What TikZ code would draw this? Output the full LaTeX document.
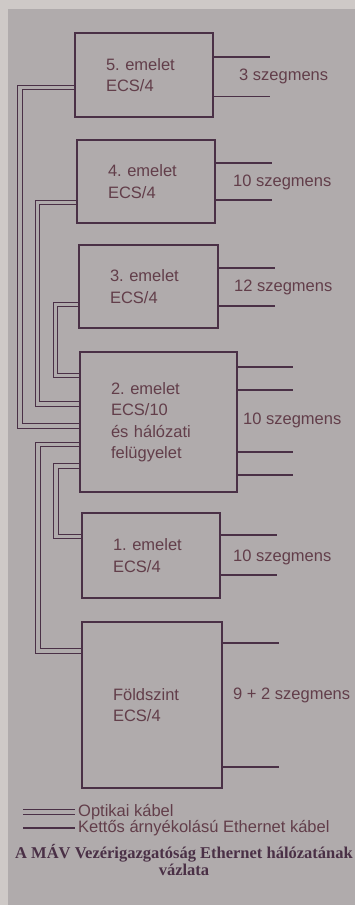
\documentclass[tikz,border=0pt]{standalone}
\usepackage{fontspec}
\setmainfont{Liberation Sans}
\newfontfamily\capfont{Liberation Serif}
\usepackage{xcolor}
\usetikzlibrary{positioning}

\definecolor{paper}{RGB}{206,201,199}
\definecolor{card}{RGB}{176,171,172}
\definecolor{ink}{RGB}{74,48,70}
\definecolor{inktext}{RGB}{98,62,74}

\frenchspacing

\begin{document}
\begin{tikzpicture}[
		x=1pt, y=-1pt,
		box/.style={
			draw=ink,
			line width=1.4pt,
			align=left,
			inner xsep=31pt,
			inner ysep=0pt,
			text=inktext,
			font=\fontsize{16.5}{21.5}\selectfont
		},
		seglabel/.style={
			anchor=west,
			inner sep=0pt,
			text=inktext,
			font=\fontsize{16.5}{20}\selectfont
		},
		legend/.style={
			anchor=west,
			inner xsep=3pt,
			inner ysep=0pt,
			text=inktext,
			font=\fontsize{16.5}{16}\selectfont
		},
		caption/.style={
			align=center,
			inner sep=0pt,
			text=ink,
			font=\capfont\bfseries\fontsize{16.5}{14}\selectfont
		},
		ethernet/.style={draw=ink, line width=1.3pt},
		optical/.style={draw=ink, line width=1.2pt, double=card, double distance=3.4pt}
		]
		
		% Background
		\fill[paper] (0,0) rectangle (355,905);
		\fill[card] (8,9) rectangle (355,905);
		\useasboundingbox (0,0) rectangle (355,905);
		
		% Floors
		\node[box, minimum width=138pt, minimum height=84pt, text width=76pt]
			(f5) at (144,75) {5. emelet\\ECS/4};
		\node[box, minimum width=138pt, minimum height=83pt, text width=76pt]
			(f4) at (146,181.5) {4. emelet\\ECS/4};
		\node[box, minimum width=139pt, minimum height=83pt, text width=77pt]
			(f3) at (148.5,286.5) {3. emelet\\ECS/4};
		\node[box, minimum width=157pt, minimum height=140pt, text width=95pt]
			(f2) at (158.5,422) {2. emelet\\ECS/10\\és hálózati\\felügyelet};
		\node[box, minimum width=138pt, minimum height=85pt, text width=76pt]
			(f1) at (151,555.5) {1. emelet\\ECS/4};
		\node[box, minimum width=140pt, minimum height=166pt, text width=78pt]
			(f0) at (152,705) {Földszint\\ECS/4};
		
		% Segment labels
		\node[seglabel] (l5) at (239,76) {3 szegmens};
		\node[seglabel] (l4) at (233,182) {10 szegmens};
		\node[seglabel] (l3) at (234,287) {12 szegmens};
		\node[seglabel] (l2) at (243,420) {10 szegmens};
		\node[seglabel] (l1) at (233,557) {10 szegmens};
		\node[seglabel] (l0) at (233,695) {9 + 2 szegmens};
		
		% Segment line ends
		\coordinate (s5a) at (270,57);
		\coordinate (s5b) at (270,96.5);
		\coordinate (s4a) at (272,163);
		\coordinate (s4b) at (272,200);
		\coordinate (s3a) at (275,268);
		\coordinate (s3b) at (275,306);
		\coordinate (s2a) at (293,367);
		\coordinate (s2b) at (293,390);
		\coordinate (s2c) at (293,452);
		\coordinate (s2d) at (293,475);
		\coordinate (s1a) at (277,535);
		\coordinate (s1b) at (277,575);
		\coordinate (s0a) at (279,643);
		\coordinate (s0b) at (279,767);
		
		% Ethernet segments
		\draw[ethernet] (f5.east |- s5a) -- (s5a);
		\draw[ethernet] (f5.east |- s5b) -- (s5b);
		\draw[ethernet] (f4.east |- s4a) -- (s4a);
		\draw[ethernet] (f4.east |- s4b) -- (s4b);
		\draw[ethernet] (f3.east |- s3a) -- (s3a);
		\draw[ethernet] (f3.east |- s3b) -- (s3b);
		\draw[ethernet] (f2.east |- s2a) -- (s2a);
		\draw[ethernet] (f2.east |- s2b) -- (s2b);
		\draw[ethernet] (f2.east |- s2c) -- (s2c);
		\draw[ethernet] (f2.east |- s2d) -- (s2d);
		\draw[ethernet] (f1.east |- s1a) -- (s1a);
		\draw[ethernet] (f1.east |- s1b) -- (s1b);
		\draw[ethernet] (f0.east |- s0a) -- (s0a);
		\draw[ethernet] (f0.east |- s0b) -- (s0b);
		
		% Optical riser
		\coordinate (bus5) at (20,250);
		\coordinate (bus4) at (37.5,300);
		\coordinate (bus3) at (55.5,340);
		\coordinate (bus1) at (56,500);
		\coordinate (bus0) at (38,550);
		
		\draw[optical] ([yshift=-12.5pt]f5.west) -| (bus5) |- ([yshift=-4pt]f2.west);
		\draw[optical] ([yshift=-21pt]f4.west) -| (bus4) |- ([yshift=18pt]f2.west);
		\draw[optical] ([yshift=-18pt]f3.west) -| (bus3) |- ([yshift=46.5pt]f2.west);
		\draw[optical] ([yshift=-22.5pt]f2.west) -| (bus0) |- ([yshift=54pt]f0.west);
		\draw[optical] ([yshift=-44pt]f2.west) -| (bus1) |- ([yshift=19pt]f1.west);
		
		% Legend
		\node[legend] (legopt) at (75,812) {Optikai kábel};
		\node[legend] (legeth) at (75,828) {Kettős árnyékolású Ethernet kábel};
		\coordinate (lgo) at (23,812);
		\coordinate (lge) at (23,828);
		\draw[optical] (lgo) -- (legopt.west);
		\draw[ethernet] (lge) -- (legeth.west);
		
		% Caption
		\node[caption] (cap) at (184,860) {A MÁV Vezérigazgatóság Ethernet hálózatának\\vázlata};
		
	\end{tikzpicture}
\end{document}
